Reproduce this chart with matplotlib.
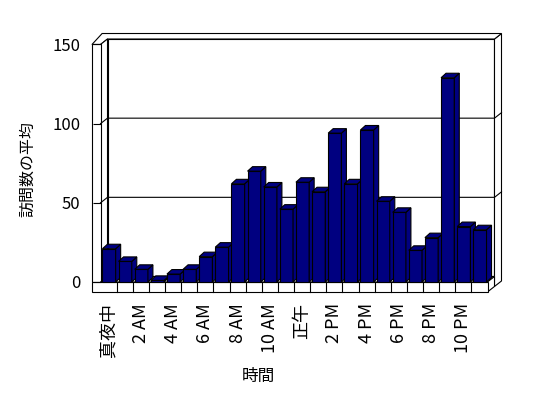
import matplotlib
matplotlib.use("Agg")
import matplotlib.pyplot as plt
from matplotlib.patches import Polygon

plt.rcParams['font.family'] = ['Noto Sans CJK JP', 'DejaVu Sans']

# data
hours = list(range(24))
visits = [21, 13, 8, 1, 5, 8, 16, 22, 62, 70, 60, 46,
          63, 57, 94, 62, 96, 51, 44, 20, 28, 129, 35, 33]
tick_pos = list(range(0, 24, 2))
tick_labels = ['真夜中', '2 AM', '4 AM', '6 AM', '8 AM', '10 AM',
               '正午', '2 PM', '4 PM', '6 PM', '8 PM', '10 PM']
y_ticks = [0, 50, 100, 150]

navy = '#000080'
lw = 0.8

fig = plt.figure(figsize=(5.48, 3.98), dpi=100)
ax = fig.add_axes([0.1834, 0.2915, 0.7062, 0.5967])
X0, X1 = -0.5, 23.5
Y0, Y1 = 0, 150
ax.set_xlim(X0, X1)
ax.set_ylim(Y0, Y1)
for s in ax.spines.values():
    s.set_visible(False)

# depth of the 3d box (data units) and wall thickness
DX, DY = 0.434, 3.47
WALL = 0.53
FLOOR = 6.3
# bar depth
BDX, BDY = 0.31, 2.84


def poly(verts, z=1, fc='white'):
    ax.add_patch(Polygon(verts, closed=True, fc=fc, ec='black', lw=lw,
                         clip_on=False, zorder=z, joinstyle='miter'))


# back wall (inner face + thickness)
poly([(X0 + DX, Y0 + DY), (X1 + DX, Y0 + DY), (X1 + DX, Y1 + DY), (X0 + DX, Y1 + DY)])
poly([(X1 + DX, Y0 + DY - FLOOR), (X1 + 2 * DX, Y0 + 2 * DY - FLOOR),
      (X1 + 2 * DX, Y1 + 2 * DY), (X1 + DX, Y1 + DY)])
# top edge of the walls
poly([(X0 - WALL, Y1), (X0, Y1), (X0 + DX, Y1 + DY), (X1 + DX, Y1 + DY),
      (X1 + 2 * DX, Y1 + 2 * DY), (X0 + 0.1, Y1 + 2 * DY)])
# left wall
poly([(X0, Y0), (X0 + DX, Y0 + DY), (X0 + DX, Y1 + DY), (X0, Y1)])
poly([(X0 - WALL, Y0), (X0, Y0), (X0, Y1), (X0 - WALL, Y1)])
# floor
poly([(X0, Y0), (X1, Y0), (X1 + DX, Y0 + DY), (X0 + DX, Y0 + DY)])
poly([(X1, Y0), (X1 + DX, Y0 + DY), (X1 + DX, Y0 + DY - FLOOR), (X1, Y0 - FLOOR)])
poly([(X0 - WALL, Y0 - FLOOR), (X1, Y0 - FLOOR), (X1, Y0), (X0 - WALL, Y0)])
for k in hours[:-1]:
    ax.plot([k + 0.5, k + 0.5], [Y0 - FLOOR, Y0], color='black', lw=lw,
            clip_on=False, zorder=1.2)

# gridlines on the walls
for v in y_ticks[1:-1]:
    ax.plot([X0, X0 + DX, X1 + DX, X1 + 2 * DX], [v, v + DY, v + DY, v + 2 * DY],
            color='black', lw=lw, clip_on=False, zorder=1.5)

# bars
for i, (h, v) in enumerate(zip(hours, visits)):
    z = 2 + i * 0.01
    left, right = h - 0.38, h + 0.44
    poly([(left, 0), (right, 0), (right, v), (left, v)], z, navy)
    poly([(right, 0), (right + BDX, BDY), (right + BDX, v + BDY), (right, v)], z, navy)
    poly([(left, v), (right, v), (right + BDX, v + BDY), (left + BDX, v + BDY)], z, navy)

ax.set_yticks(y_ticks)
ax.tick_params(axis='y', direction='out', length=6.1, width=lw, pad=8.5, labelsize=12)
ax.set_xticks(tick_pos)
ax.set_xticklabels(tick_labels, rotation=90, fontsize=13)
ax.tick_params(axis='x', length=0, pad=15)

ax.set_ylabel('訪問数の平均', fontsize=11.5)
ax.yaxis.set_label_coords(-0.165, 0.476)
ax.set_xlabel('時間', fontsize=12)
ax.xaxis.set_label_coords(0.407, -0.364)

fig.savefig('out.png', dpi=100)
